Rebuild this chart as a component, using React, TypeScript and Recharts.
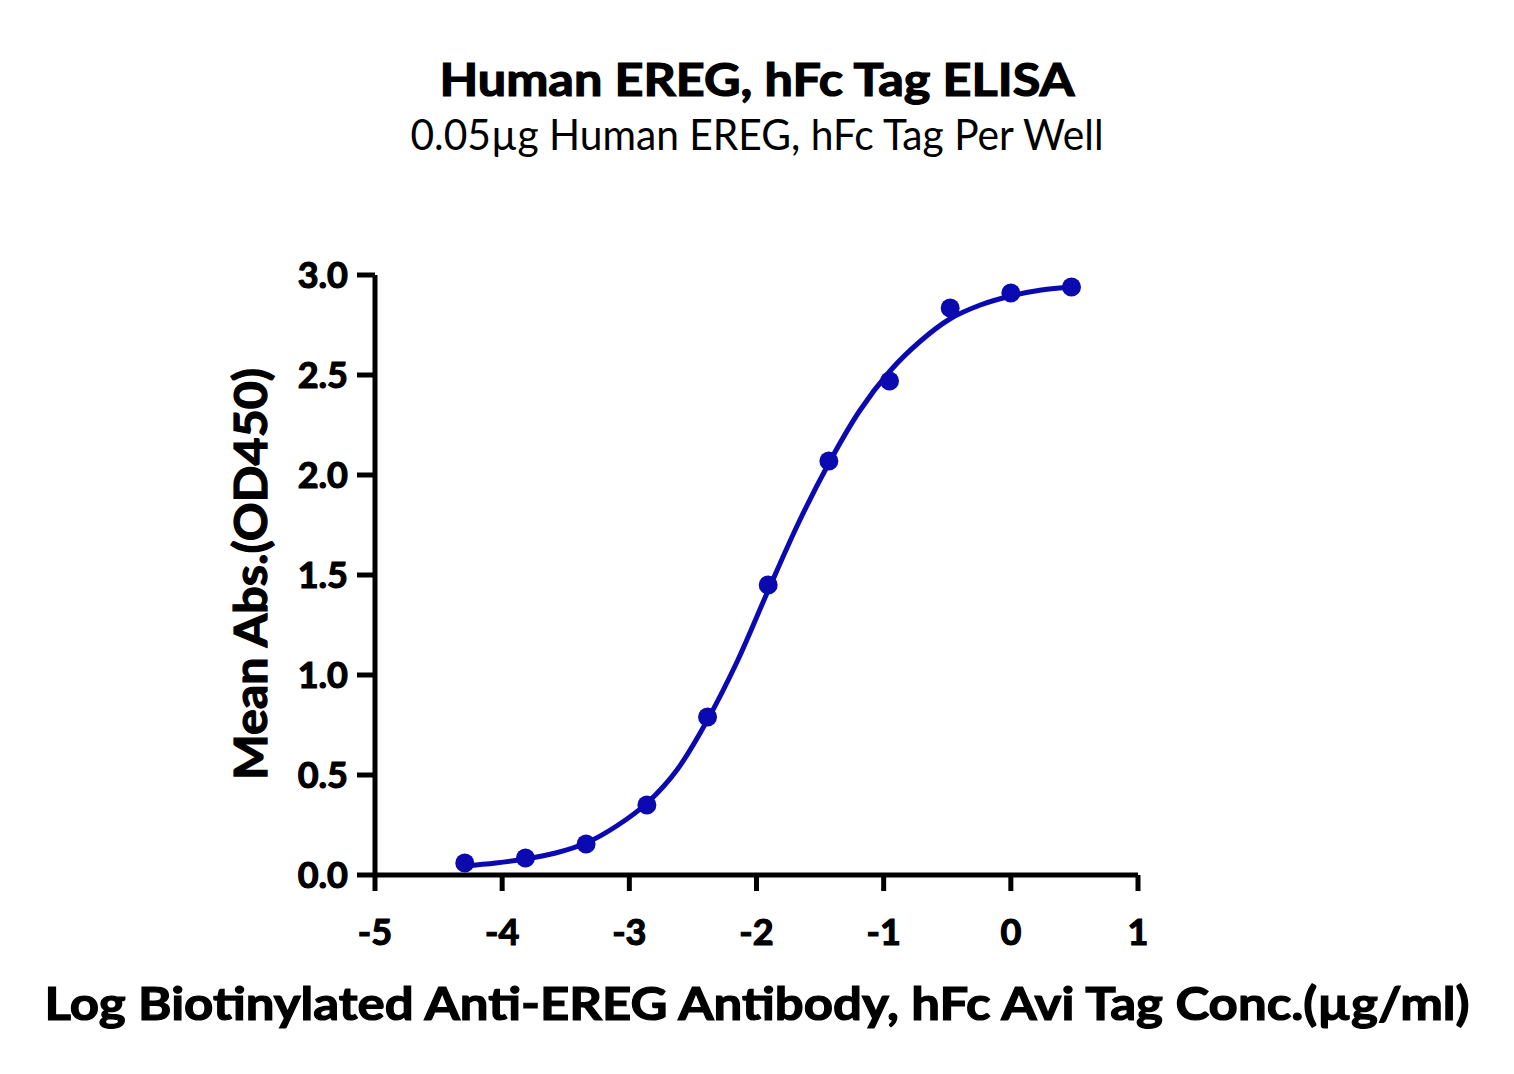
import { ComposedChart, Line, Scatter, XAxis, YAxis } from "recharts";

// log10 of antibody concentration (µg/ml), 3-fold dilutions
const logConc = [-4.294, -3.817, -3.34, -2.862, -2.385, -1.908, -1.431, -0.954, -0.477, 0, 0.477];
const meanAbs = [0.06, 0.085, 0.155, 0.35, 0.79, 1.45, 2.07, 2.47, 2.835, 2.91, 2.94];

// fitted curve
const curveX = [-4.3, -4.05, -3.82, -3.58, -3.34, -3.1, -2.86, -2.62, -2.39, -2.15, -1.91, -1.67, -1.43, -1.19, -0.95, -0.71, -0.48, -0.24, 0, 0.24, 0.48];
const curveY = [0.045, 0.06, 0.08, 0.11, 0.16, 0.245, 0.36, 0.53, 0.77, 1.07, 1.42, 1.76, 2.06, 2.32, 2.52, 2.67, 2.78, 2.85, 2.895, 2.925, 2.94];

const xTicks = [-5, -4, -3, -2, -1, 0, 1];
const yTicks = [0, 0.5, 1, 1.5, 2, 2.5, 3];

const points = logConc.map((x, i) => ({ x, y: meanAbs[i] }));
const curve = curveX.map((x, i) => ({ x, y: curveY[i] }));

const BLUE = "#0a0ab0";
const FONT = "Lato, 'Open Sans', sans-serif";

const tickStyle = { fontSize: 36, fontWeight: 700, fill: "#000", stroke: "#000", strokeWidth: 1.2, fontFamily: FONT };

export default function App() {
    return (
        <div style={{ position: "absolute", left: 0, top: 0, width: 1514, height: 1074, background: "#fff" }}>
            <ComposedChart
                width={1514}
                height={1074}
                margin={{ top: 275, right: 376, bottom: 0, left: 0 }}
            >
                <XAxis
                    type="number"
                    dataKey="x"
                    domain={[-5, 1]}
                    ticks={xTicks}
                    height={199}
                    stroke="#000"
                    strokeWidth={5}
                    tickSize={16}
                    tickMargin={28}
                    tick={tickStyle}
                    allowDataOverflow
                />
                <YAxis
                    type="number"
                    dataKey="y"
                    domain={[0, 3]}
                    ticks={yTicks}
                    width={375}
                    stroke="#000"
                    strokeWidth={5}
                    tickSize={18}
                    tickMargin={9}
                    tick={tickStyle}
                    tickFormatter={(v: number) => v.toFixed(1)}
                />
                <Line
                    data={curve}
                    dataKey="y"
                    type="monotone"
                    stroke={BLUE}
                    strokeWidth={5}
                    dot={false}
                    activeDot={false}
                    isAnimationActive={false}
                />
                <Scatter
                    data={points}
                    dataKey="y"
                    fill={BLUE}
                    isAnimationActive={false}
                    shape={(p: any) => <circle cx={p.cx} cy={p.cy} r={9.5} fill={BLUE} />}
                />
            </ComposedChart>
            <svg
                width={1514}
                height={1074}
                style={{ position: "absolute", left: 0, top: 0, pointerEvents: "none" }}
                fontFamily={FONT}
            >
                <text x={757} y={96} textAnchor="middle" fontSize={45} fontWeight={700} stroke="#000" strokeWidth={1.2} textLength={635} lengthAdjust="spacingAndGlyphs">
                    Human EREG, hFc Tag ELISA
                </text>
                <text x={757} y={150} textAnchor="middle" fontSize={42} textLength={693} lengthAdjust="spacingAndGlyphs">
                    0.05µg Human EREG, hFc Tag Per Well
                </text>
                <text x={757} y={1020} textAnchor="middle" fontSize={46} fontWeight={700} stroke="#000" strokeWidth={1.2} textLength={1425} lengthAdjust="spacingAndGlyphs">
                    Log Biotinylated Anti-EREG Antibody, hFc Avi Tag Conc.(µg/ml)
                </text>
                <text
                    x={0}
                    y={0}
                    transform="translate(267 574) rotate(-90)"
                    textAnchor="middle"
                    fontSize={46}
                    fontWeight={700}
                    stroke="#000"
                    strokeWidth={1.2}
                    textLength={412}
                    lengthAdjust="spacingAndGlyphs"
                >
                    Mean Abs.(OD450)
                </text>
            </svg>
        </div>
    );
}
